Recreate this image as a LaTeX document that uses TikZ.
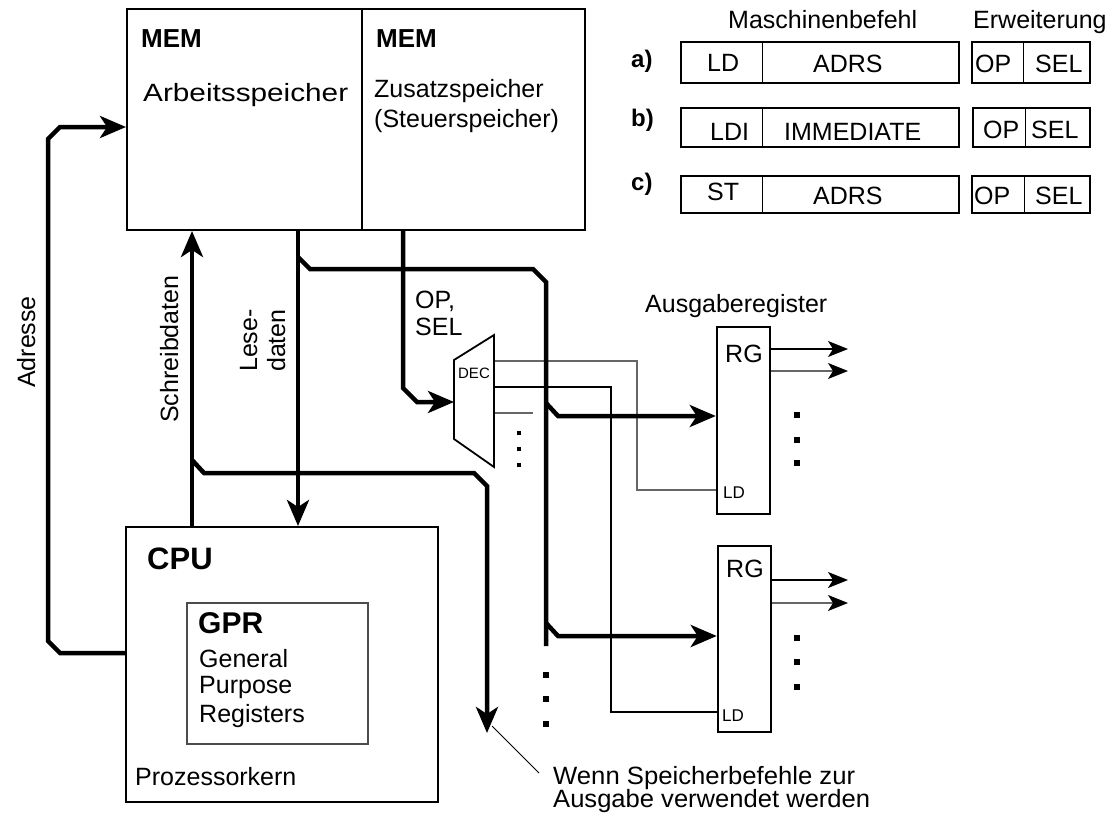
\documentclass[tikz,border=0pt]{standalone}
\usepackage{fontspec}
\setmainfont{Liberation Sans}
\usepackage{graphicx}
\usetikzlibrary{arrows.meta,fit,calc}
\tikzset{
  box/.style={draw, line width=2pt, inner sep=0pt},
  divider/.style={line width=1pt},
  bus/.style={line width=4.5pt, line join=miter},
  busarr/.style={bus, -{Stealth[length=26pt,width=22pt,inset=7pt]}},
  wire/.style={line width=1.2pt},
  wiregray/.style={line width=1.2pt, draw=black!60},
  outarr/.style={line width=1.5pt, -{Stealth[length=20pt,width=16pt,inset=5pt,color=black]}},
  outarrgray/.style={outarr, draw=black!60},
  lbl/.style={inner sep=0pt, anchor=base west},
  boldlbl/.style={lbl, font=\fontsize{26}{30}\selectfont\bfseries},
  idxlbl/.style={lbl, font=\fontsize{24}{28}\selectfont\bfseries},
  smalllbl/.style={lbl, font=\fontsize{17}{20}\selectfont},
  vlbl/.style={inner sep=0pt, anchor=base west, rotate=90},
  sqdot/.style={fill, minimum size=6pt, inner sep=0pt},
  smdot/.style={fill, minimum size=4pt, inner sep=0pt},
}
\begin{document}
\begin{tikzpicture}[x=1pt,y=-1pt, every node/.style={font=\fontsize{25}{28}\selectfont}]
\fill[white] (0,0) rectangle (1112,816);
\useasboundingbox (0,0) rectangle (1112,816);

% ---------- MEM ----------
\node[box, fit={(127,9)(585,230)}] (mem) {};
\draw[line width=1.5pt] (mem.north -| 362,0) -- (mem.south -| 362,0);
\node[boldlbl] (mem1) at (141,48) {MEM};
\node[boldlbl] (mem2) at (376,48) {MEM};
\node[lbl] (arb) at (143,102) {\resizebox{205pt}{\height}{Arbeitsspeicher}};
\node[lbl] (zus) at (374,97) {Zusatzspeicher};
\node[lbl] (steu) at (374,128) {(Steuerspeicher)};

% ---------- CPU ----------
\node[box, fit={(126,527)(438,802)}] (cpu) {};
\node[boldlbl, font=\fontsize{31}{34}\selectfont\bfseries] (cpul) at (147,569) {CPU};
\node[draw=black!70, line width=1.5pt, inner sep=0pt, fit={(187,603)(368,744)}] (gpr) {};
\node[boldlbl, font=\fontsize{30}{32}\selectfont\bfseries] (gprl) at (198,633) {GPR};
\node[lbl] (gen) at (199,667) {General};
\node[lbl] (pur) at (199,693) {Purpose};
\node[lbl] (reg) at (199,722) {Registers};
\node[lbl] (proz) at (135,785) {Prozessorkern};

% ---------- instruction formats ----------
\node[lbl] (mb) at (728,29) {Maschinenbefehl};
\node[lbl] (erw) at (973,29) {Erweiterung};
\node[idxlbl] (la) at (631,68) {a)};
\node[idxlbl] (lb) at (631,126) {b)};
\node[idxlbl] (lc) at (631,190) {c)};

\node[box, fit={(681,42)(959,83)}] (ma) {};
\draw[divider] (ma.north -| 762,0) -- (ma.south -| 762,0);
\node[box, fit={(972,42)(1090,83)}] (ea) {};
\draw[divider] (ea.north -| 1023,0) -- (ea.south -| 1023,0);
\node[lbl] at (707,72) {LD};
\node[lbl] at (813,73) {ADRS};
\node[lbl] at (975,73) {OP};
\node[lbl] at (1035,73) {SEL};

\node[box, fit={(681,108)(959,147)}] (mbx) {};
\draw[divider] (mbx.north -| 762,0) -- (mbx.south -| 762,0);
\node[box, fit={(973,108)(1090,147)}] (ebx) {};
\draw[divider] (ebx.north -| 1025,0) -- (ebx.south -| 1025,0);
\node[lbl] at (710,140) {LDI};
\node[lbl] at (784,140) {IMMEDIATE};
\node[lbl] at (983,138) {OP};
\node[lbl] at (1031,138) {SEL};

\node[box, fit={(681,176)(959,213)}] (mc) {};
\draw[divider] (mc.north -| 762,0) -- (mc.south -| 762,0);
\node[box, fit={(972,176)(1090,213)}] (ec) {};
\draw[divider] (ec.north -| 1024,0) -- (ec.south -| 1024,0);
\node[lbl] at (707,200) {ST};
\node[lbl] at (813,204) {ADRS};
\node[lbl] at (974,204) {OP};
\node[lbl] at (1035,204) {SEL};

% ---------- registers ----------
\node[lbl] (ausg) at (645,312) {Ausgaberegister};
\node[box, line width=2.5pt, fit={(717,327)(770,514)}] (rg1) {};
\node[box, line width=2.5pt, fit={(718,546)(771,732)}] (rg2) {};
\node[lbl] at (725,362) {RG};
\node[lbl] at (726,577) {RG};
\node[smalllbl] at (723,498) {LD};
\node[smalllbl] at (722,721) {LD};

\coordinate (o1a) at (848,349);
\coordinate (o1b) at (848,371);
\coordinate (o2a) at (848,580);
\coordinate (o2b) at (848,603);
\draw[outarr] (rg1.east |- o1a) -- (o1a);
\draw[outarrgray] (rg1.east |- o1b) -- (o1b);
\draw[outarr] (rg2.east |- o2a) -- (o2a);
\draw[outarrgray] (rg2.east |- o2b) -- (o2b);
\foreach \y in {415,440,463,638,662,687} \node[sqdot] at (797,\y) {};

% ---------- DEC ----------
\coordinate (decin) at (454,402);
\coordinate (deco1) at (494,361);
\coordinate (deco2) at (494,387);
\coordinate (deco3) at (494,413);
\coordinate (deco3e) at (533,413);
\draw[wiregray] (deco1) -- (637,361) -- (637,490) -- (rg1.west |- 0,490);
\draw[wire] (deco2) -- (611,387) -- (611,712) -- (rg2.west |- 0,712);
\draw[wiregray] (deco3) -- (deco3e);
\draw[line width=1.8pt, fill=white] (454,360) -- (494,335) -- (494,467) -- (454,439) -- cycle;
\node[font=\fontsize{15}{18}\selectfont, inner sep=0pt] (decl) at (474,373) {DEC};
\foreach \y in {433,449,465} \node[smdot] at (519,\y) {};

% ---------- buses ----------
\coordinate (tipA) at (487,733);
\draw[busarr] (cpu.west |- 0,653) -- (60,653) -- (48,641) -- (48,139) -- (60,127) -- (mem.west |- 0,127);
\draw[busarr] (cpu.north -| 192,0) -- (mem.south -| 192,0);
\draw[busarr] (192,460) -- (204,473) -- (474,473) -- (487,486) -- (tipA);
\draw[busarr] (mem.south -| 298,0) -- (cpu.north -| 298,0);
\draw[bus] (298,257) -- (310,269) -- (533,269) -- (546,282) -- (546,646);
\draw[busarr] (546,403) -- (558,416) -- (rg1.west |- 0,416);
\draw[busarr] (546,623) -- (558,636) -- (rg2.west |- 0,636);
\draw[busarr] (mem.south -| 403,0) -- (403,388) -- (417,402) -- (decin);
\foreach \y in {675,699,724} \node[sqdot] at (546,\y) {};

% ---------- labels ----------
\node[vlbl] (adr) at (35,388) {Adresse};
\node[vlbl] (schr) at (178,423) {Schreibdaten};
\node[vlbl] (lese) at (257,372) {Lese-};
\node[vlbl] (daten) at (285,372) {daten};
\node[lbl] (op) at (415,308) {OP,};
\node[lbl] (sel) at (415,335) {SEL};

% ---------- annotation ----------
\coordinate (annS) at (492,726);
\coordinate (annE) at (539,773);
\draw[line width=0.8pt] (annS) -- (annE);
\node[lbl] (wenn) at (553,784) {\resizebox{302pt}{\height}{Wenn Speicherbefehle zur}};
\node[lbl] (ausv) at (553,807) {\resizebox{317pt}{\height}{Ausgabe verwendet werden}};
\end{tikzpicture}
\end{document}
